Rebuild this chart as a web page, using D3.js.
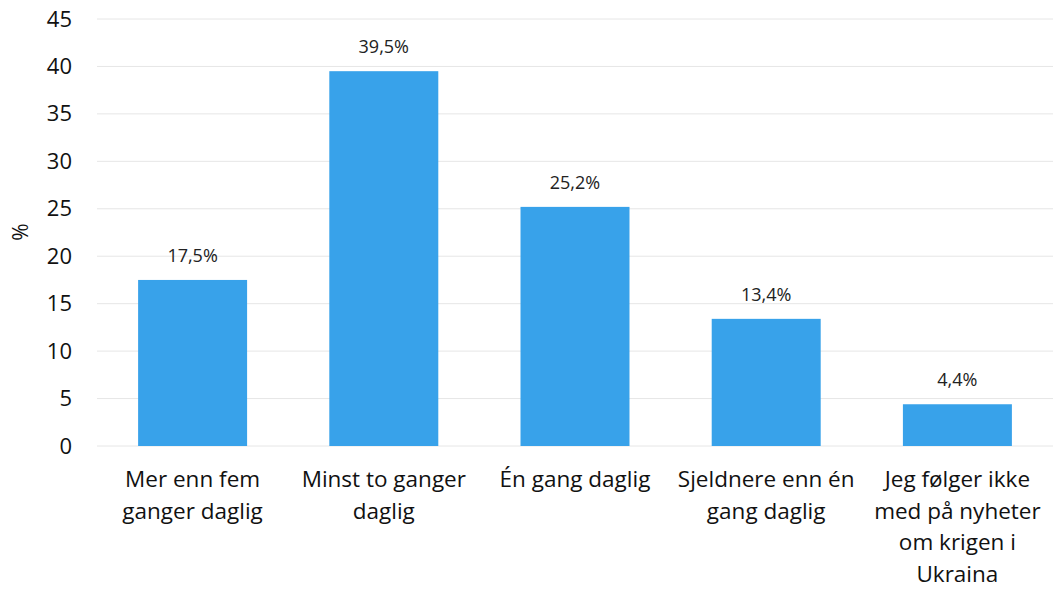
<!DOCTYPE html>
<html><head><meta charset="utf-8">
<script src="https://cdn.jsdelivr.net/npm/d3@7"></script>
<style>body{margin:0;background:#fff}svg{display:block}</style>
</head><body>
<script>
const categories = [
  ["Mer enn fem", "ganger daglig"],
  ["Minst to ganger", "daglig"],
  ["Én gang daglig"],
  ["Sjeldnere enn én", "gang daglig"],
  ["Jeg følger ikke", "med på nyheter", "om krigen i", "Ukraina"]
];
const values = [17.5, 39.5, 25.2, 13.4, 4.4];
const yTicks = [0, 5, 10, 15, 20, 25, 30, 35, 40, 45];
const yTitle = "%";

const W = 1053, H = 589;
const svg = d3.select("body").append("svg").attr("width", W).attr("height", H);
const font = "'Open Sans', sans-serif";

const x = d3.scaleBand().domain(d3.range(values.length)).range([97, 1053]).paddingInner(0.43).paddingOuter(0.215);
const y = d3.scaleLinear().domain([0, 45]).range([446, 19]);

// grid
svg.append("g").selectAll("line").data(yTicks).join("line")
  .attr("x1", 97).attr("x2", 1053)
  .attr("y1", d => y(d)).attr("y2", d => y(d))
  .attr("stroke", "#e6e6e6").attr("stroke-width", 1);

// y axis
const ya = svg.append("g").attr("transform", "translate(97,0)")
  .call(d3.axisLeft(y).tickValues(yTicks).tickSize(0).tickPadding(25));
ya.select(".domain").remove();
ya.selectAll("text").attr("font-family", font).attr("font-size", 22).attr("fill", "#111");

svg.append("text").attr("transform", "translate(28,232) rotate(-90)")
  .attr("text-anchor", "middle").attr("font-family", font).attr("font-size", 21).attr("fill", "#111").text(yTitle);

// bars
svg.append("g").selectAll("rect").data(values).join("rect")
  .attr("x", (d, i) => x(i)).attr("width", x.bandwidth())
  .attr("y", d => y(d)).attr("height", d => y(0) - y(d))
  .attr("fill", "#38a2ea");

// data labels
svg.append("g").selectAll("text").data(values).join("text")
  .attr("x", (d, i) => x(i) + x.bandwidth() / 2)
  .attr("y", d => y(d) - 18)
  .attr("text-anchor", "middle")
  .attr("font-family", font).attr("font-size", 18).attr("fill", "#222")
  .text(d => d.toFixed(1).replace(".", ",") + "%");

// category labels
const cl = svg.append("g").selectAll("text").data(categories).join("text")
  .attr("x", (d, i) => x(i) + x.bandwidth() / 2)
  .attr("y", 487)
  .attr("text-anchor", "middle")
  .attr("font-family", font).attr("font-size", 22.5).attr("fill", "#111");
cl.selectAll("tspan").data(d => d).join("tspan")
  .attr("x", function() { return this.parentNode.getAttribute("x"); })
  .attr("dy", (d, j) => j === 0 ? 0 : 31.5)
  .text(d => d);
</script>
</body></html>
